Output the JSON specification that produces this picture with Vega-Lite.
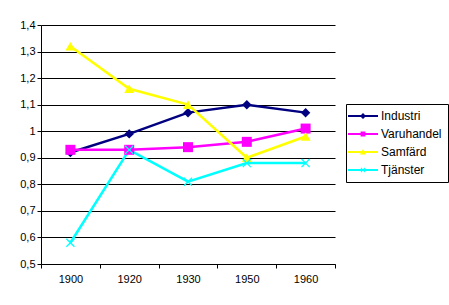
{
  "$schema": "https://vega.github.io/schema/vega-lite/v6.json",
  "width": 294,
  "height": 239,
  "autosize": "none",
  "padding": {"left": 41, "top": 25, "right": 114, "bottom": 41},
  "background": "white",
  "config": {
    "view": {"stroke": null},
    "font": "Liberation Sans",
    "locale": {"number": {"decimal": ",", "thousands": " ", "grouping": [3], "currency": ["", " kr"]}}
  },
  "data": {
    "values": [
      {"year": "1900", "series": "Industri", "value": 0.92},
      {"year": "1920", "series": "Industri", "value": 0.99},
      {"year": "1930", "series": "Industri", "value": 1.07},
      {"year": "1950", "series": "Industri", "value": 1.10},
      {"year": "1960", "series": "Industri", "value": 1.07},
      {"year": "1900", "series": "Varuhandel", "value": 0.93},
      {"year": "1920", "series": "Varuhandel", "value": 0.93},
      {"year": "1930", "series": "Varuhandel", "value": 0.94},
      {"year": "1950", "series": "Varuhandel", "value": 0.96},
      {"year": "1960", "series": "Varuhandel", "value": 1.01},
      {"year": "1900", "series": "Samfärd", "value": 1.32},
      {"year": "1920", "series": "Samfärd", "value": 1.16},
      {"year": "1930", "series": "Samfärd", "value": 1.10},
      {"year": "1950", "series": "Samfärd", "value": 0.90},
      {"year": "1960", "series": "Samfärd", "value": 0.98},
      {"year": "1900", "series": "Tjänster", "value": 0.58},
      {"year": "1920", "series": "Tjänster", "value": 0.93},
      {"year": "1930", "series": "Tjänster", "value": 0.81},
      {"year": "1950", "series": "Tjänster", "value": 0.88},
      {"year": "1960", "series": "Tjänster", "value": 0.88}
    ]
  },
  "encoding": {
    "x": {
      "field": "year", "type": "ordinal", "sort": null,
      "scale": {"paddingInner": 0, "paddingOuter": 0},
      "axis": {
        "title": null, "labelAngle": 0, "tickBand": "extent", "grid": false,
        "ticks": true, "tickSize": 4, "tickColor": "black", "domainColor": "black",
        "labelFontSize": 11, "labelColor": "black", "labelPadding": 5, "labelFont": "Liberation Sans"
      }
    },
    "y": {
      "field": "value", "type": "quantitative",
      "scale": {"domain": [0.5, 1.4], "nice": false, "zero": false},
      "axis": {
        "title": null, "values": [0.5, 0.6, 0.7, 0.8, 0.9, 1.0, 1.1, 1.2, 1.3, 1.4],
        "format": ".1~f", "grid": true, "gridColor": "black", "gridOpacity": 1, "gridWidth": 1,
        "tickSize": 4, "tickColor": "black", "domainColor": "black",
        "labelFontSize": 11, "labelColor": "black", "labelPadding": 2, "labelFont": "Liberation Sans"
      }
    },
    "color": {
      "field": "series", "type": "nominal",
      "scale": {"domain": ["Industri", "Varuhandel", "Samfärd", "Tjänster"], "range": ["#000080", "#FF00FF", "#FFFF00", "#00FFFF"]},
      "legend": {
        "orient": "none", "legendX": 305, "legendY": 79, "title": null, "padding": 6,
        "strokeColor": "black", "fillColor": "white", "labelFontSize": 12, "labelColor": "black",
        "labelFont": "Liberation Sans", "rowPadding": 6, "symbolOffset": 5, "labelOffset": 12,
        "symbolSize": 144, "symbolStrokeWidth": 0, "symbolOpacity": 1
      }
    }
  },
  "layer": [
    {"mark": {"type": "line", "strokeWidth": 2.5}, "encoding": {}},
    {
      "transform": [{"filter": {"field": "series", "equal": "Industri"}}],
      "mark": {"type": "point", "shape": "diamond", "filled": true, "size": 90, "opacity": 1, "strokeWidth": 0}
    },
    {
      "transform": [{"filter": {"field": "series", "equal": "Varuhandel"}}],
      "mark": {"type": "point", "shape": "square", "filled": true, "size": 100, "opacity": 1, "strokeWidth": 0}
    },
    {
      "transform": [{"filter": {"field": "series", "equal": "Samfärd"}}],
      "mark": {"type": "point", "shape": "triangle-up", "filled": true, "size": 100, "opacity": 1, "strokeWidth": 0}
    },
    {
      "transform": [{"filter": {"field": "series", "equal": "Tjänster"}}],
      "mark": {"type": "point", "shape": "M-1,-0.8L-0.8,-1L1,0.8L0.8,1Z M-1,0.8L0.8,-1L1,-0.8L-0.8,1Z", "filled": true, "size": 81, "opacity": 1, "strokeWidth": 0}
    },
    {
      "mark": {"type": "point", "filled": true, "opacity": 0, "size": 144},
      "encoding": {
        "shape": {
          "field": "series", "type": "nominal",
          "scale": {
            "domain": ["Industri", "Varuhandel", "Samfärd", "Tjänster"],
            "range": [
              "M-2.5,-0.17L2.5,-0.17L2.5,0.17L-2.5,0.17Z M0,-0.5L0.5,0L0,0.5L-0.5,0Z",
              "M-2.5,-0.17L2.5,-0.17L2.5,0.17L-2.5,0.17Z M-0.4,-0.4L0.4,-0.4L0.4,0.4L-0.4,0.4Z",
              "M-2.5,-0.17L2.5,-0.17L2.5,0.17L-2.5,0.17Z M0,-0.5L0.5,0.4L-0.5,0.4Z",
              "M-2.5,-0.17L2.5,-0.17L2.5,0.17L-2.5,0.17Z M-0.4,-0.3L-0.3,-0.4L0.4,0.3L0.3,0.4Z M-0.4,0.3L0.3,-0.4L0.4,-0.3L-0.3,0.4Z"
            ]
          },
          "legend": {
            "orient": "none", "legendX": 305, "legendY": 79, "title": null, "padding": 6,
            "strokeColor": "black", "fillColor": "white", "labelFontSize": 12, "labelColor": "black",
            "labelFont": "Liberation Sans", "rowPadding": 6, "symbolOffset": 5, "labelOffset": 12,
            "symbolSize": 144, "symbolStrokeWidth": 0, "symbolOpacity": 1
          }
        }
      }
    }
  ]
}
